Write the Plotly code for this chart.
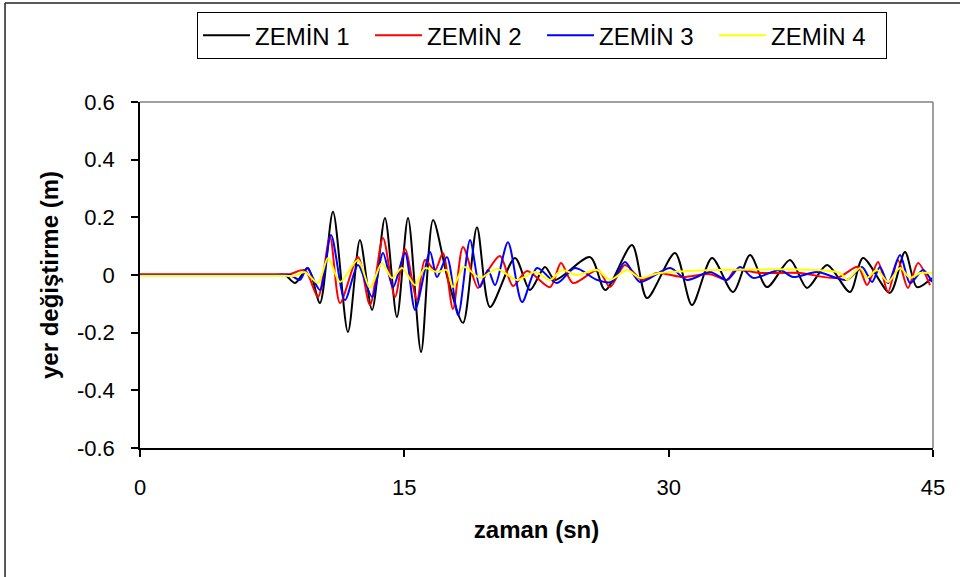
import plotly.graph_objects as go

# ---- data (time in s, displacement in m) ----
t_z1 = [0, 7.60, 8.23, 8.80, 9.53, 10.21, 10.95, 11.80, 12.48, 13.17, 13.90, 14.58, 15.21, 15.95,
        16.63, 17.48, 18.33, 19.12, 19.86, 21.28, 22.13, 22.98, 23.55, 25.54, 26.40, 27.92,
        28.77, 30.36, 31.32, 32.46, 33.65, 34.62, 35.58, 36.89, 37.85, 38.99, 40.29, 41.03,
        42.56, 43.41, 44.09, 44.94]
y_z1 = [0, 0, 0, -0.028, 0.024, -0.097, 0.219, -0.198, 0.121, -0.121, 0.198, -0.146, 0.198, -0.267,
        0.191, -0.017, -0.166, 0.166, -0.111, 0.059, -0.052, 0.028, -0.017, 0.062, -0.052, 0.104,
        -0.080, 0.076, -0.104, 0.059, -0.059, 0.069, -0.042, 0.052, -0.045, 0.035, -0.059, 0.059,
        -0.062, 0.080, -0.042, -0.010]

t_z2 = [0, 7.90, 8.51, 9.36, 10.10, 10.78, 11.35, 12.37, 13.05, 13.79, 14.47, 15.04, 15.72, 16.17,
        16.74, 17.19, 17.76, 18.33, 19.18, 19.69, 20.43, 21.17, 21.96, 23.27, 23.89, 24.57,
        25.99, 26.67, 27.52, 28.49, 29.34, 30.81, 32.35, 33.31, 33.76, 35.18, 37.45, 39.55,
        40.74, 41.26, 41.88, 42.45, 43.01, 43.58, 44.15, 44.83]
y_z2 = [0.003, 0.003, 0.003, 0.017, -0.076, 0.132, -0.097, 0.062, -0.104, 0.128, -0.076, 0.090, -0.087, 0.052,
        0.017, 0.076, -0.118, 0.097, -0.045, 0.010, 0.066, -0.038, 0.014, -0.042, 0.042, -0.028,
        0.017, -0.042, 0.035, -0.017, 0.007, -0.007, 0.003, -0.017, 0.017, 0.007, 0.007, -0.010,
        0.028, -0.035, 0.045, -0.059, 0.052, -0.045, 0.042, -0.035]

t_z3 = [0, 7.90, 8.51, 9.08, 9.48, 10.21, 10.84, 11.63, 12.37, 13.17, 13.79, 14.36, 15.04, 15.61,
        16.46, 16.85, 17.42, 18.05, 18.73, 19.29, 19.75, 20.15, 20.88, 21.68, 22.53, 23.66,
        24.68, 25.93, 26.78, 27.52, 28.37, 30.08, 31.04, 32.35, 33.31, 34.05, 34.79, 36.32,
        37.06, 38.42, 40.12, 40.97, 41.54, 41.99, 42.45, 43.13, 43.70, 44.43, 44.94]
y_z3 = [0, 0, 0, -0.017, 0.024, -0.052, 0.139, -0.087, 0.035, -0.076, 0.076, -0.042, 0.076, -0.121,
        0.080, -0.007, 0.062, -0.139, 0.121, -0.042, 0.017, -0.035, 0.114, -0.094, 0.024, -0.028,
        0.024, -0.017, -0.024, 0.045, -0.024, 0.024, -0.017, 0.010, -0.017, 0.028, -0.010, 0.017,
        -0.007, 0.010, -0.017, 0.028, -0.024, 0.028, -0.028, 0.069, -0.028, 0.017, -0.024]

t_z4 = [0, 8.20, 8.80, 9.36, 10.10, 10.67, 11.35, 12.37, 13.05, 13.73, 14.30, 14.87, 15.61, 16.17,
        16.85, 17.42, 17.76, 18.39, 19.29, 20.26, 21.39, 22.42, 23.27, 23.95, 24.80, 25.93,
        26.67, 27.64, 28.37, 29.51, 39.72, 40.12, 40.86, 41.26, 41.82, 42.45, 43.13, 43.70,
        44.26, 44.94]
y_z4 = [-0.003, -0.003, -0.003, 0.010, -0.028, 0.059, -0.024, 0.052, -0.045, 0.042, -0.010, 0.024, -0.035, 0.024,
        0.010, 0.017, -0.042, 0.028, -0.010, 0.021, -0.017, 0.010, -0.017, 0.017, 0.0, 0.017,
        -0.017, 0.017, -0.010, 0.007, 0.007, -0.017, 0.024, -0.010, 0.017, -0.024, 0.024, -0.010,
        0.007, 0.007]

series_names = ["ZEMİN 1", "ZEMİN 2", "ZEMİN 3", "ZEMİN 4"]
series_colors = ["#000000", "#ff0000", "#0000ff", "#ffff00"]
x_ticks = [0, 15, 30, 45]
y_ticks = [-0.6, -0.4, -0.2, 0, 0.2, 0.4, 0.6]
y_tick_text = ["-0.6", "-0.4", "-0.2", "0", "0.2", "0.4", "0.6"]

FONT = "Liberation Sans, Arial, sans-serif"

fig = go.Figure()
for t, y, name, col in zip([t_z1, t_z2, t_z3, t_z4], [y_z1, y_z2, y_z3, y_z4],
                           series_names, series_colors):
    fig.add_trace(go.Scatter(x=t, y=y, mode="lines", name=name,
                             line=dict(color=col, width=2, shape="spline", smoothing=0.8)))

fig.update_layout(
    width=960, height=577,
    margin=dict(l=140, r=27, t=102, b=129, autoexpand=False),
    paper_bgcolor="white", plot_bgcolor="white",
    font=dict(family=FONT, color="black", size=22),
    showlegend=True,
    legend=dict(orientation="h", x=0.0719, y=1.26, xanchor="left", yanchor="top",
                bordercolor="black", borderwidth=1, bgcolor="white",
                font=dict(family=FONT, size=24, color="black"),
                entrywidth=110, entrywidthmode="pixels", itemwidth=47,
                tracegroupgap=0),
    xaxis=dict(range=[0, 45], tickvals=x_ticks, ticktext=[str(v) for v in x_ticks],
               showgrid=False, zeroline=False, showline=True, linecolor="black", linewidth=1.5,
               ticks="outside", ticklen=7, tickcolor="black", tickwidth=1.5,
               ticklabelstandoff=12, automargin=False,
               tickfont=dict(family=FONT, size=22),
               title=dict(text="<b>zaman (sn)</b>", standoff=22,
                          font=dict(family=FONT, size=24))),
    yaxis=dict(range=[-0.6, 0.6], tickvals=y_ticks, ticktext=y_tick_text,
               showgrid=False, zeroline=False, showline=True, linecolor="black", linewidth=1.5,
               ticks="outside", ticklen=7, tickcolor="black", tickwidth=1.5,
               ticklabelstandoff=12, automargin=False,
               tickfont=dict(family=FONT, size=22),
               title=dict(text="<b>yer değiştirme (m)</b>", standoff=12,
                          font=dict(family=FONT, size=24))),
    shapes=[
        # plot area border (top and right, gray)
        dict(type="line", xref="paper", yref="paper", x0=0, x1=1, y0=1, y1=1,
             line=dict(color="#808080", width=1.5)),
        dict(type="line", xref="paper", yref="paper", x0=1, x1=1, y0=0, y1=1,
             line=dict(color="#808080", width=1.5)),
        # outer chart border (top and left)
        dict(type="line", xref="paper", yref="paper", x0=-0.1702, x1=1.04, y0=1.2861, y1=1.2861,
             line=dict(color="#222222", width=1.5)),
        dict(type="line", xref="paper", yref="paper", x0=-0.1702, x1=-0.1702, y0=-0.38, y1=1.2861,
             line=dict(color="#222222", width=1.5)),
    ],
)

fig.write_html("out.html", config={"displayModeBar": False},
               post_script="document.body.style.margin='0px';")
